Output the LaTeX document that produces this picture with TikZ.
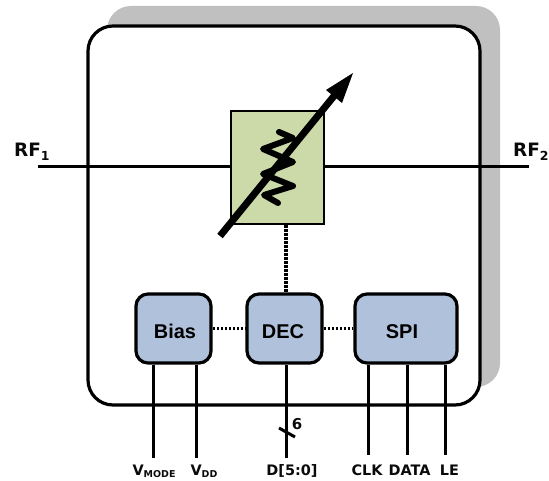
\documentclass[tikz,border=0pt]{standalone}
\usepackage{fontspec}
\setmainfont{DejaVu Sans}
\newfontfamily\arialfont{Liberation Sans}
\usetikzlibrary{arrows.meta,calc}
\tikzset{
  x=1bp,y=-1bp,
  blockbox/.style={draw=black,line width=3.2bp,rounded corners=12bp,fill=blockblue,inner sep=0pt,text height=20bp,text depth=0pt,font=\arialfont\bfseries\fontsize{20}{20}\selectfont},
  wire/.style={draw=black,line width=3bp},
  dotwire/.style={draw=black,line width=3.2bp,dash pattern=on 2.4bp off 1.6bp},
  pinlabel/.style={inner sep=0pt,font=\bfseries\fontsize{14.5}{15}\selectfont,text=labelblack},
  rflabel/.style={inner sep=0pt,font=\bfseries\fontsize{18.5}{19}\selectfont,text=labelblack},
}
\definecolor{blockblue}{RGB}{176,194,219}
\definecolor{attgreen}{RGB}{203,218,168}
\definecolor{shadowgray}{RGB}{192,192,192}
\definecolor{labelblack}{RGB}{10,10,10}
\begin{document}
\begin{tikzpicture}
\useasboundingbox (0,0) rectangle (549,481);
% shadow and body
\fill[shadowgray,rounded corners=24bp] (107,6) rectangle (500,387);
\draw[black,line width=3.2bp,fill=white,rounded corners=25bp] (88,26) rectangle (480,405);
% attenuator
\node[draw=black,line width=2.9bp,fill=attgreen,minimum width=93bp,minimum height=113bp,inner sep=0pt] (att) at (277.5,167.5) {};
% blocks
\node[blockbox,minimum width=75bp,minimum height=69bp] (bias) at (173.5,328.5) {\hspace*{3bp}Bias};
\node[blockbox,minimum width=75bp,minimum height=69bp] (dec) at (284.5,328.5) {\hspace*{-3bp}DEC};
\node[blockbox,minimum width=102bp,minimum height=69bp] (spi) at (406,328.5) {\hspace*{-8bp}SPI};
% RF lines
\coordinate (rfa) at (38,167);
\coordinate (rfb) at (529,167);
\draw[wire] (rfa) -- (rfa -| att.west);
\draw[wire] (rfb -| att.east) -- (rfb);
\node[rflabel,anchor=base west] (rf1) at (14,157) {RF\raisebox{-4bp}{\fontsize{12.5}{12}\selectfont 1}};
\node[rflabel,anchor=base west] (rf2) at (513,157) {RF\raisebox{-4bp}{\fontsize{12.5}{12}\selectfont 2}};
% dotted links
\draw[dotwire] (att.south -| dec.north) ++(1.5,0) -- ($(dec.north)+(1.5,0)$);
\draw[dotwire] (bias.east) -- (dec.west);
\draw[dotwire] (dec.east) -- (spi.west);
% pins
\coordinate (pvm) at (153,458);
\coordinate (pvd) at (196,458);
\coordinate (pd) at (286,458);
\coordinate (pclk) at (368,455);
\coordinate (pdata) at (407,455);
\coordinate (ple) at (445,455);
\draw[wire] (pvm |- bias.south) -- (pvm);
\draw[wire] (pvd |- bias.south) -- (pvd);
\draw[wire] (pd |- dec.south) -- (pd);
\draw[wire] (pclk |- spi.south) -- (pclk);
\draw[wire] (pdata |- spi.south) -- (pdata);
\draw[wire] (ple |- spi.south) -- (ple);
% bus slash
\coordinate (sa) at (279,428);
\coordinate (sb) at (295,437);
\draw[wire] (sa) -- (sb);
\node[pinlabel,font=\bfseries\fontsize{15}{15}\selectfont] (six) at (297,424) {6};
% pin labels
\node[pinlabel,anchor=base] (lvm) at (154,475) {V\raisebox{-2.5bp}{\fontsize{9.5}{9}\selectfont MODE}};
\node[pinlabel,anchor=base] (lvd) at (204,475) {V\raisebox{-2.5bp}{\fontsize{9.5}{9}\selectfont DD}};
\node[pinlabel,anchor=base] (ld) at (292,475.5) {D[5:0]};
\node[pinlabel,anchor=base] (lclk) at (367,475) {CLK};
\node[pinlabel,anchor=base] (ldata) at (409.5,475) {DATA};
\node[pinlabel,anchor=base] (lle) at (449.5,475) {LE};
% zigzag
\draw[black,line width=6bp,line join=round,line cap=round] (279,132) -- (293,138) -- (263,149) -- (293,162) -- (263,174) -- (293,186) -- (264,195) -- (278,203);
% tuning arrow
\coordinate (ta) at (220,236);
\coordinate (tb) at (334,96);
\coordinate (tip) at (353,73);
\draw[black,line width=7bp] (ta) -- (tb);
\fill[black] (tip) -- (326,90) -- (342,103) -- cycle;
\end{tikzpicture}
\end{document}
